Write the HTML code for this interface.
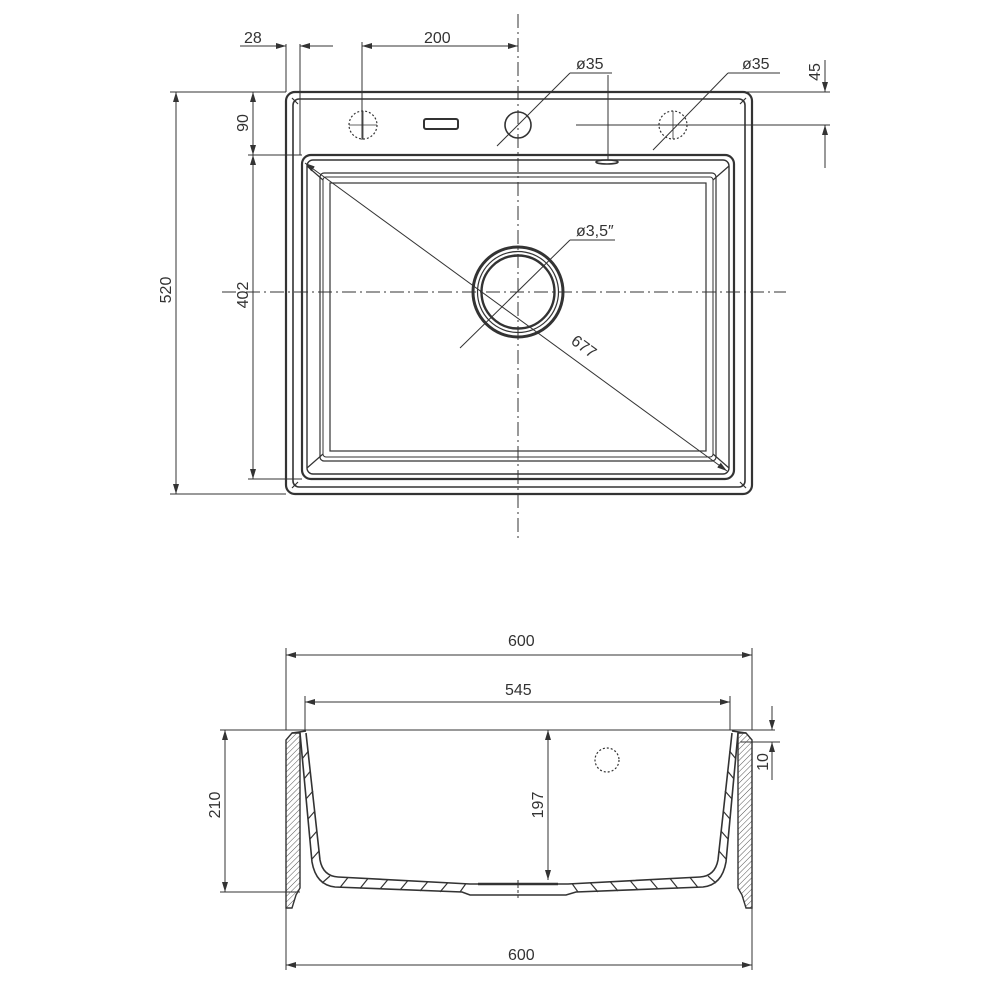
<!DOCTYPE html>
<html><head><meta charset="utf-8"><style>
html,body{margin:0;padding:0;background:#fff}
svg{display:block}
text{font-family:"Liberation Sans",sans-serif;font-size:16px;fill:#333}
</style></head><body>
<svg width="1000" height="1000" viewBox="0 0 1000 1000" xmlns="http://www.w3.org/2000/svg">
<defs>
<marker id="a" viewBox="0 0 10 6" refX="10" refY="3" markerWidth="10" markerHeight="6" orient="auto-start-reverse" markerUnits="userSpaceOnUse"><path d="M0,0L10,3L0,6z" fill="#333"/></marker>
<pattern id="h" width="4" height="4" patternUnits="userSpaceOnUse" patternTransform="rotate(45)"><line x1="0" y1="0" x2="0" y2="4" stroke="#555" stroke-width="1"/></pattern>
</defs>
<g stroke="#333" fill="none">
<line x1="518" y1="14" x2="518" y2="540" stroke-width="1" stroke-dasharray="14,4,2,4"/>
<line x1="222" y1="292" x2="786" y2="292" stroke-width="1" stroke-dasharray="14,4,2,4"/>
<rect x="286" y="92" width="466" height="402" rx="9" stroke-width="2.2"/>
<rect x="293" y="99" width="452" height="388" rx="6" stroke-width="1.6"/>
<rect x="302" y="155" width="432" height="324" rx="9" stroke-width="2.2"/>
<rect x="307" y="160" width="422" height="314" rx="6" stroke-width="1.4"/>
<rect x="320" y="173" width="396" height="288" rx="4" stroke-width="1.2"/>
<rect x="323" y="177" width="390" height="280" rx="3" stroke-width="1"/>
<rect x="330" y="183" width="376" height="268" stroke-width="1.2"/>
<path d="M307,166 L323,180 M729,166 L713,180 M307,468 L323,454 M729,468 L713,454 M292,98 L298,104 M746,98 L740,104 M292,488 L298,482 M746,488 L740,482" stroke-width="1.2"/>
<circle cx="518" cy="292" r="45" stroke-width="3"/>
<circle cx="518" cy="292" r="40.5" stroke-width="1.2"/>
<circle cx="518" cy="292" r="36.5" stroke-width="2.4"/>
<circle cx="363" cy="125" r="14" stroke-width="1.2" stroke-dasharray="2,2"/>
<line x1="349" y1="125" x2="377" y2="125" stroke-width="0.8"/><line x1="363" y1="111" x2="363" y2="139" stroke-width="0.8"/>
<rect x="424" y="119" width="34" height="10" rx="2" stroke-width="2"/>
<circle cx="518" cy="125" r="13" stroke-width="1.6"/>
<circle cx="673" cy="125" r="14" stroke-width="1.2" stroke-dasharray="2,2"/>
<line x1="673" y1="111" x2="673" y2="139" stroke-width="0.8"/>
<ellipse cx="607" cy="162" rx="11" ry="2" stroke-width="1.6"/>
<g stroke-width="1">
<line x1="286" y1="44" x2="286" y2="92"/><line x1="300" y1="44" x2="300" y2="155"/>
<line x1="240" y1="46" x2="286" y2="46" marker-end="url(#a)"/>
<line x1="333" y1="46" x2="300" y2="46" marker-end="url(#a)"/>
<line x1="362" y1="42" x2="362" y2="140"/>
<line x1="362" y1="46" x2="518" y2="46" marker-start="url(#a)" marker-end="url(#a)"/>
<line x1="170" y1="92" x2="286" y2="92"/><line x1="170" y1="494" x2="286" y2="494"/>
<line x1="176" y1="92" x2="176" y2="494" marker-start="url(#a)" marker-end="url(#a)"/>
<line x1="248" y1="155" x2="302" y2="155"/><line x1="248" y1="479" x2="302" y2="479"/>
<line x1="253" y1="92" x2="253" y2="155" marker-start="url(#a)" marker-end="url(#a)"/>
<line x1="253" y1="155" x2="253" y2="479" marker-start="url(#a)" marker-end="url(#a)"/>
<line x1="745" y1="92" x2="830" y2="92"/><line x1="576" y1="125" x2="830" y2="125"/>
<line x1="825" y1="60" x2="825" y2="92" marker-end="url(#a)"/>
<line x1="825" y1="168" x2="825" y2="125" marker-end="url(#a)"/>
<line x1="608" y1="75" x2="608" y2="160"/>
<line x1="612" y1="73" x2="570" y2="73"/><line x1="570" y1="73" x2="497" y2="146"/>
<line x1="780" y1="73" x2="728" y2="73"/><line x1="728" y1="73" x2="653" y2="150"/>
<line x1="615" y1="240" x2="570" y2="240"/><line x1="570" y1="240" x2="460" y2="348"/>
<line x1="305" y1="163" x2="727" y2="471" marker-start="url(#a)" marker-end="url(#a)"/>
</g>
<g stroke-width="1">
<line x1="220" y1="730" x2="775" y2="730"/>
<line x1="220" y1="892" x2="300" y2="892"/>
<line x1="225" y1="730" x2="225" y2="892" marker-start="url(#a)" marker-end="url(#a)"/>
<line x1="286" y1="648" x2="286" y2="730"/><line x1="752" y1="648" x2="752" y2="730"/>
<line x1="286" y1="655" x2="752" y2="655" marker-start="url(#a)" marker-end="url(#a)"/>
<line x1="305" y1="696" x2="305" y2="730"/><line x1="730" y1="696" x2="730" y2="730"/>
<line x1="305" y1="702" x2="730" y2="702" marker-start="url(#a)" marker-end="url(#a)"/>
<line x1="548" y1="730" x2="548" y2="880" marker-start="url(#a)" marker-end="url(#a)"/>
<line x1="740" y1="742" x2="780" y2="742"/>
<line x1="772" y1="706" x2="772" y2="730" marker-end="url(#a)"/>
<line x1="772" y1="780" x2="772" y2="742" marker-end="url(#a)"/>
<line x1="286" y1="900" x2="286" y2="970"/><line x1="752" y1="900" x2="752" y2="970"/>
<line x1="286" y1="965" x2="752" y2="965" marker-start="url(#a)" marker-end="url(#a)"/>
<line x1="518" y1="880" x2="518" y2="900" stroke-dasharray="3,2"/>
</g>
<path d="M286,740 L292,733 L300,733 L300,888 L296,895 L292,908 L286,908 Z" fill="url(#h)" stroke-width="1.4"/>
<path d="M752,740 L746,733 L738,733 L738,888 L742,895 L746,908 L752,908 Z" fill="url(#h)" stroke-width="1.4"/>
<path d="M292,733 L306,731" stroke-width="1.4"/>
<path d="M746,733 L732,731" stroke-width="1.4"/>
<path d="M300,733 L312,862 Q316,885 335,887 L462,892 L470,895 L566,895 L576,892 L703,887 Q722,885 726,862 L738,733" stroke-width="1.6"/>
<path d="M306,733 L320,860 Q323,876 338,877 L470,884 L568,884 L700,877 Q715,876 718,860 L732,733" stroke-width="1.6"/>
<path d="M308.5,751 L302,759 M310.5,771 L304,779 M313,791 L306,799 M315,811 L308,819 M317,831 L310,839 M319,851 L312,859
M729.5,751 L736,759 M727.5,771 L734,779 M725,791 L732,799 M723,811 L730,819 M721,831 L728,839 M719,851 L726,859
M330,876 L322,883 M348,877.5 L340,887.5 M368,878.5 L360,888.5 M388,879.5 L380,889 M408,880.5 L400,890 M428,881.5 L420,891 M448,882.5 L440,892 M466,883.5 L460,892
M708,876 L716,883 M690,877.5 L698,887.5 M670,878.5 L678,888.5 M650,879.5 L658,889 M630,880.5 L638,890 M610,881.5 L618,891 M590,882.5 L598,892 M572,883.5 L578,892" stroke-width="1.2"/>
<line x1="478" y1="884" x2="558" y2="884" stroke-width="2.4"/>
<circle cx="607" cy="760" r="12" stroke-width="1.2" stroke-dasharray="2,2"/>
</g>
<text x="244" y="43">28</text>
<text x="424" y="43">200</text>
<text x="576" y="69">ø35</text>
<text x="742" y="69">ø35</text>
<text x="576" y="236">ø3,5″</text>
<text transform="translate(820,72) rotate(-90)" text-anchor="middle">45</text>
<text transform="translate(248,123) rotate(-90)" text-anchor="middle">90</text>
<text transform="translate(171,290) rotate(-90)" text-anchor="middle">520</text>
<text transform="translate(248,295) rotate(-90)" text-anchor="middle">402</text>
<text transform="translate(570,343) rotate(36)">677</text>
<text x="508" y="646">600</text>
<text x="505" y="695">545</text>
<text transform="translate(220,805) rotate(-90)" text-anchor="middle">210</text>
<text transform="translate(543,805) rotate(-90)" text-anchor="middle">197</text>
<text transform="translate(768,762) rotate(-90)" text-anchor="middle">10</text>
<text x="508" y="960">600</text>
</svg>
</body></html>
